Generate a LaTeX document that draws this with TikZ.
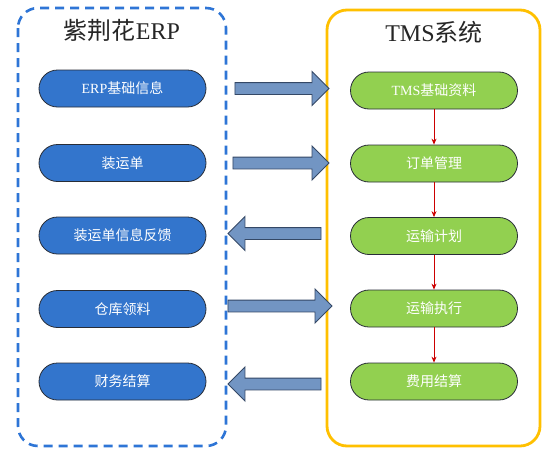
\documentclass[tikz,border=0pt]{standalone}
\usepackage{fontspec}
\setmainfont{Liberation Serif}
\newfontfamily\cjk{Noto Sans CJK SC}
\usetikzlibrary{shapes.arrows,arrows.meta}
\definecolor{pillblue}{RGB}{51,117,204}
\definecolor{pillgreen}{RGB}{146,208,80}
\definecolor{arrowfill}{RGB}{114,149,195}
\definecolor{arrowline}{RGB}{52,72,102}
\definecolor{dashblue}{RGB}{46,117,214}
\definecolor{boxorange}{RGB}{255,192,0}
\definecolor{pillline}{RGB}{40,45,55}
\begin{document}
\begin{tikzpicture}[x=1pt,y=-1pt,
  pill/.style={draw=pillline,line width=0.8pt,rounded corners=18.5pt,minimum width=167pt,minimum height=37pt,inner sep=0pt,text=white,font=\fontsize{14pt}{16pt}\selectfont},
  bluepill/.style={pill,fill=pillblue},
  greenpill/.style={pill,fill=pillgreen},
  barrow/.style={shape=single arrow,draw=arrowline,fill=arrowfill,line width=0.9pt,inner xsep=0pt,inner ysep=5.5pt,single arrow head extend=11pt,single arrow tip angle=90},
  flow/.style={draw=red!80!black,line width=0.8pt,-{Stealth[length=6pt,width=5pt]}},
  title/.style={font=\fontsize{24pt}{28pt}\selectfont,text=black!85}]
\useasboundingbox (0,0) rectangle (548,455);
\fill[white] (0,0) rectangle (548,455);
% frames
\draw[dashblue,line width=2.6pt,dash pattern=on 9pt off 6pt,rounded corners=20pt] (18,8) rectangle (226,446);
\draw[boxorange,line width=2.8pt,rounded corners=20pt] (327,10) rectangle (540,446);
\node[title] (t1) at (122,30) {{\cjk 紫荆花}ERP};
\node[title] (t2) at (434,32) {TMS{\cjk 系统}};
% left pills
\node[bluepill] (l1) at (122.5,88.5) {ERP{\cjk 基础信息}};
\node[bluepill] (l2) at (122.5,163) {\cjk 装运单};
\node[bluepill] (l3) at (122.5,235.5) {\cjk 装运单信息反馈};
\node[bluepill] (l4) at (122.5,309) {\cjk 仓库领料};
\node[bluepill] (l5) at (122.5,381.5) {\cjk 财务结算};
% right pills
\node[greenpill] (r1) at (434,90.5) {TMS{\cjk 基础资料}};
\node[greenpill] (r2) at (434,163.5) {\cjk 订单管理};
\node[greenpill] (r3) at (434,236) {\cjk 运输计划};
\node[greenpill] (r4) at (434,308.5) {\cjk 运输执行};
\node[greenpill] (r5) at (434,381.5) {\cjk 费用结算};
% flow arrows
\draw[flow] (r1) -- (r2);
\draw[flow] (r2) -- (r3);
\draw[flow] (r3) -- (r4);
\draw[flow] (r4) -- (r5);
% block arrows
\node[barrow,minimum height=94pt] (a1) at (279,88.5) {};
\node[barrow,minimum height=96pt] (a2) at (278,163) {};
\node[barrow,minimum height=93pt,shape border rotate=180] (a3) at (277.5,233.5) {};
\node[barrow,minimum height=104pt] (a4) at (277,306) {};
\node[barrow,minimum height=93pt,shape border rotate=180] (a5) at (277.5,384) {};
\end{tikzpicture}
\end{document}
